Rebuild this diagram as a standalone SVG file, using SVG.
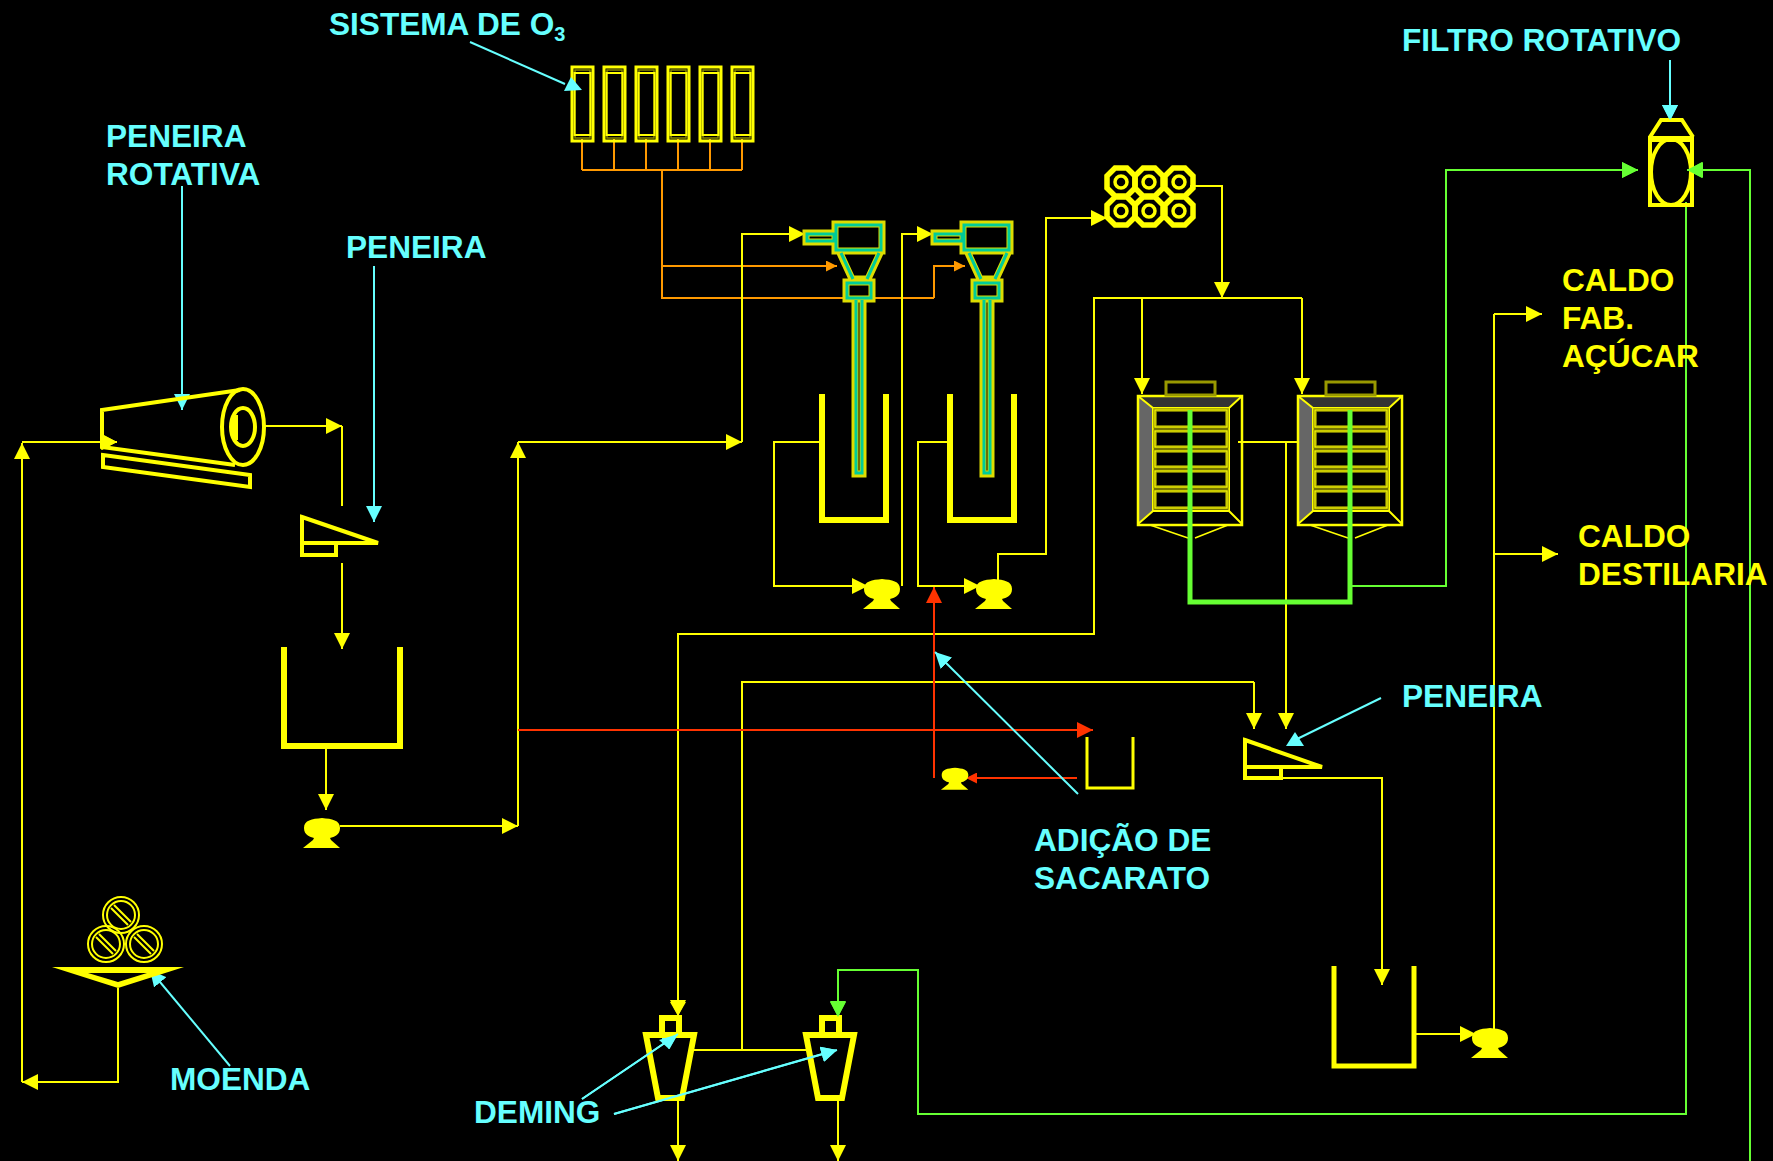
<svg xmlns="http://www.w3.org/2000/svg" xmlns:xlink="http://www.w3.org/1999/xlink" width="1773" height="1161" viewBox="0 0 1773 1161">
<defs>
<style>
.l{fill:none;stroke-width:2}
.y{stroke:#FFFF00}.o{stroke:#FF9900}.r{stroke:#FF3300}.g{stroke:#66FF33}.c{stroke:#66FFFF}
.ya{marker-end:url(#ay)}.oa{marker-end:url(#ao)}.ra{marker-end:url(#ar)}.ga{marker-end:url(#ag)}.ca{marker-end:url(#ac)}
.s{fill:none;stroke:#FFFF00;stroke-width:4}
.w{fill:none;stroke:#FFFF00;stroke-width:6}
.cy{fill:none;stroke:#DDDD00;stroke-width:7;stroke-linejoin:miter}
.ct{fill:none;stroke:#00CC99;stroke-width:3}
.p{fill:none;stroke:#999900;stroke-width:3.5}
.p2{fill:none;stroke:#FFFF00;stroke-width:1}
text{font-family:"Liberation Sans",Arial,sans-serif;font-weight:bold;font-size:31.6px}
.tc{fill:#66FFFF}.ty{fill:#FFFF00}
</style>
<marker id="ay" markerUnits="userSpaceOnUse" markerWidth="16" markerHeight="16" refX="16" refY="8" orient="auto"><path d="M0 0L16 8L0 16Z" fill="#FFFF00"/></marker>
<marker id="ao" markerUnits="userSpaceOnUse" markerWidth="11" markerHeight="11" refX="11" refY="5.5" orient="auto"><path d="M0 0L11 5.5L0 11Z" fill="#FF9900"/></marker>
<marker id="ar" markerUnits="userSpaceOnUse" markerWidth="16" markerHeight="16" refX="16" refY="8" orient="auto"><path d="M0 0L16 8L0 16Z" fill="#FF3300"/></marker>
<marker id="as" markerUnits="userSpaceOnUse" markerWidth="11" markerHeight="11" refX="11" refY="5.5" orient="auto"><path d="M0 0L11 5.5L0 11Z" fill="#FF3300"/></marker>
<marker id="ag" markerUnits="userSpaceOnUse" markerWidth="16" markerHeight="16" refX="16" refY="8" orient="auto"><path d="M0 0L16 8L0 16Z" fill="#66FF33"/></marker>
<marker id="ac" markerUnits="userSpaceOnUse" markerWidth="16" markerHeight="16" refX="16" refY="8" orient="auto"><path d="M0 0L16 8L0 16Z" fill="#66FFFF"/></marker>
<path id="pump" d="M-18 -4C-18 -12 -10 -13 0 -14C10 -13 18 -12 18 -4C18 3 12 5 8 6L9 8L18 16L-19 16L-9 8L-8 6C-12 5 -18 3 -18 -4Z" fill="#FFFF00"/>
<g id="ozcell">
<rect x="572" y="67" width="21" height="74" fill="none" stroke="#FFFF00" stroke-width="3"/>
<rect x="575" y="70" width="15" height="68" fill="none" stroke="#888800" stroke-width="1.5"/>
<rect x="574.500" y="73" width="16" height="62" fill="none" stroke="#FFFF00" stroke-width="2"/>
</g>
<g id="cyc">
<path class="cy" d="M835 224H882V251H835ZM806 233H835V242H806ZM840 253L852 279H868L880 253M846 282H872V299H846ZM855 300V474H863V300"/>
<path class="ct" d="M836 225H881V250H836ZM807 234H834V241H807ZM841 253L853 279M879 253L867 279M847 283H871V298H847ZM856 300V473H862V300"/>
</g>
<g id="press">
<path d="M1138 396H1242L1229 408H1153Z" fill="#333333"/>
<path d="M1138 396L1153 408V511L1138 524Z" fill="#666666"/>
<rect x="1138" y="396" width="104" height="129" fill="none" stroke="#FFFF00" stroke-width="2.5"/>
<rect x="1153" y="408" width="76" height="103" fill="none" stroke="#FFFF00" stroke-width="2"/>
<path d="M1138 396L1153 408M1242 396L1229 408M1138 524L1153 511M1242 524L1229 511" fill="none" stroke="#FFFF00" stroke-width="2"/>
<rect class="p" x="1155" y="410" width="72" height="17"/><rect class="p" x="1155" y="431" width="72" height="16"/><rect class="p" x="1155" y="451" width="72" height="16"/><rect class="p" x="1155" y="471" width="72" height="16"/><rect class="p" x="1155" y="491" width="72" height="17"/>
<rect class="p2" x="1155" y="410" width="72" height="17"/><rect class="p2" x="1155" y="431" width="72" height="16"/><rect class="p2" x="1155" y="451" width="72" height="16"/><rect class="p2" x="1155" y="471" width="72" height="16"/><rect class="p2" x="1155" y="491" width="72" height="17"/>
<rect x="1166" y="382" width="49" height="13" fill="none" stroke="#999900" stroke-width="3"/>
<path d="M1150 525L1188 538M1195 538L1228 525" fill="none" stroke="#FFFF00" stroke-width="1.500"/>
</g>
<g id="roller">
<circle r="18" fill="none" stroke="#FFFF00" stroke-width="2"/><circle r="14" fill="none" stroke="#FFFF00" stroke-width="2"/>
<path d="M-10 -7L7 10M-7 -10L10 7" fill="none" stroke="#FFFF00" stroke-width="2"/>
</g>
<g id="coil"><path d="M-6 -14H6L14 -6V6L6 14H-6L-14 6V-6Z" fill="none" stroke="#FFFF00" stroke-width="5.500"/><circle r="6" fill="none" stroke="#FFFF00" stroke-width="3.500"/></g>
</defs>
<rect width="1773" height="1161" fill="#000000"/>

<g id="connectors">
<path class="l o" d="M582 139V170M614 139V170M646 139V170M678 139V170M710 139V170M742 139V170M582 170H742M662 170V298H934"/>
<path class="l o oa" d="M662 266H837"/>
<path class="l o oa" d="M934 298V266H965"/>
<path class="l y ya" d="M22 1082V443"/>
<path class="l y ya" d="M22 442H117"/>
<path class="l y ya" d="M265 426H342"/>
<path class="l y" d="M342 426V506"/>
<path class="l y ya" d="M342 563V649"/>
<path class="l y ya" d="M326 747V810"/>
<path class="l y ya" d="M340 826H518"/>
<path class="l y ya" d="M518 826V442"/>
<path class="l y ya" d="M518 442H742"/>
<path class="l y ya" d="M742 442V234H805"/>
<path class="l y ya" d="M819 442H774V586H868"/>
<path class="l y ya" d="M902 586V234H933"/>
<path class="l y ya" d="M947 442H918V586H980"/>
<path class="l y ya" d="M998 580V554H1046V218H1107"/>
<path class="l y ya" d="M1190 186H1222V298"/>
<path class="l y ya" d="M1302 298H1094V634H678V1016"/>
<path class="l y ya" d="M1142 298V394"/>
<path class="l y ya" d="M1302 298V394"/>
<path class="l y" d="M1238 442H1302"/>
<path class="l y ya" d="M1286 442V729"/>
<path class="l y" d="M1254 682H742V1050"/>
<path class="l y ya" d="M1254 682V729"/>
<path class="l y" d="M694 1050H806"/>
<path class="l y ya" d="M678 1100V1161"/>
<path class="l y ya" d="M838 1100V1161"/>
<path class="l y ya" d="M118 988V1082H22"/>
<path class="l y ya" d="M1282 778H1382V985"/>
<path class="l y ya" d="M1416 1034H1476"/>
<path class="l y" d="M1494 1030V314"/>
<path class="l y ya" d="M1494 314H1542"/>
<path class="l y ya" d="M1494 554H1558"/>
<path class="l r ra" d="M518 730H1093"/>
<path class="l r ra" d="M934 778V587"/>
<path class="l r" d="M1077 778H966" marker-end="url(#as)"/>
<path class="l g ga" d="M1350 586H1446V170H1638"/>
<path class="l g ga" d="M1750 1161V170H1687"/>
<path class="l g ga" d="M1686 202V1114H918V970H838V1017"/>
<path class="l c ca" d="M182 186V410"/>
<path class="l c ca" d="M374 266V522"/>
<path class="l c ca" d="M1670 60V121"/>
<path class="l c" d="M470 42L565 84"/>
<path class="l c ca" d="M1078 794L935 652"/>
<path class="l c" d="M1381 698L1295 740"/>
<path class="l c ca" d="M230 1066L150 970"/>
<path class="l c ca" d="M582 1099L678 1034"/>
<path class="l c ca" d="M614 1114L837 1050"/>
</g>

<g id="peneira-rotativa">
<path class="s" d="M240 390L102 410V447L235 465M103 455L250 475V487L103 467Z"/>
<ellipse class="s" cx="243" cy="427" rx="21" ry="38"/>
<ellipse class="s" cx="243" cy="427" rx="12" ry="19"/>
<path d="M232 415H238V440H232Z" fill="#FFFF00"/>
<path d="M117 442L102 434V450Z" fill="#FFFF00"/>
</g>
<g id="peneira-1"><path class="s" d="M302 517L378 543H302ZM302 543V555H336V543"/></g>
<g id="tanque-1"><path class="w" d="M284 647V746H400V647"/></g>
<g id="bomba-1"><use xlink:href="#pump" x="322" y="832"/></g>
<g id="moenda">
<use xlink:href="#roller" x="121" y="915"/><use xlink:href="#roller" x="106" y="944"/><use xlink:href="#roller" x="144" y="944"/>
<path d="M52 967H184L118 988ZM88 973L118 982L147 973Z" fill="#FFFF00" fill-rule="evenodd"/>
</g>
<g id="sistema-o3">
<use xlink:href="#ozcell"/><use xlink:href="#ozcell" x="32"/><use xlink:href="#ozcell" x="64"/><use xlink:href="#ozcell" x="96"/><use xlink:href="#ozcell" x="128"/><use xlink:href="#ozcell" x="160"/>
<path d="M564 91L582 90L571 77Z" fill="#66FFFF"/>
</g>
<g id="ciclone-1"><use xlink:href="#cyc"/></g>
<g id="ciclone-2"><use xlink:href="#cyc" x="128"/></g>
<g id="tanque-2"><path class="w" d="M822 394V520H886V394"/></g>
<g id="tanque-3"><path class="w" d="M950 394V520H1014V394"/></g>
<g id="bomba-2"><use xlink:href="#pump" x="882" y="593"/></g>
<g id="bomba-3"><use xlink:href="#pump" x="994" y="593"/></g>
<g id="trocador">
<use xlink:href="#coil" x="1121" y="182"/><use xlink:href="#coil" x="1149" y="182"/><use xlink:href="#coil" x="1179" y="182"/>
<use xlink:href="#coil" x="1121" y="211"/><use xlink:href="#coil" x="1149" y="211"/><use xlink:href="#coil" x="1179" y="211"/>
</g>
<g id="filtro-prensa-1"><use xlink:href="#press"/></g>
<g id="filtro-prensa-2"><use xlink:href="#press" x="160"/></g>
<g id="filtro-verde"><path d="M1190 410V602H1350V410" fill="none" stroke="#66FF33" stroke-width="5"/></g>
<g id="filtro-rotativo">
<rect x="1650" y="138" width="42" height="67" fill="none" stroke="#FFFF00" stroke-width="4"/>
<path class="s" d="M1650 137L1661 120H1682L1693 137"/>
<rect x="1648" y="136" width="46" height="6" fill="#FFFF00"/>
<ellipse cx="1671" cy="172" rx="20" ry="33" fill="none" stroke="#FFFF00" stroke-width="4"/>
<path d="M1687 170L1702 162V178Z" fill="#66FF33"/>
<path d="M1638 170L1622 162V178Z" fill="#66FF33"/>
<path d="M1670 120L1662 105H1678Z" fill="#66FFFF"/>
</g>
<g id="tanque-sacarato"><path class="s" style="stroke-width:3" d="M1087 737V788H1133V737"/></g>
<g id="bomba-sacarato"><use xlink:href="#pump" transform="translate(955 778) scale(.74)"/></g>
<g id="peneira-2">
<path class="s" d="M1245 740L1322 767H1245ZM1245 767V778H1281V767"/>
<path d="M1286 746L1304 746L1295 732Z" fill="#66FFFF"/>
</g>
<g id="tanque-4"><path class="s" style="stroke-width:5" d="M1334 966V1066H1414V966"/></g>
<g id="bomba-4"><use xlink:href="#pump" x="1490" y="1042"/></g>
<g id="deming-1"><path class="w" d="M646 1035H694L682 1098H658ZM662 1032V1018H679V1032"/></g>
<g id="deming-2"><path class="w" d="M806 1035H854L842 1098H818ZM822 1032V1018H839V1032"/></g>
<g id="deming-setas">
<path d="M678 1034L659 1040L669 1049Z" fill="#66FFFF"/>
<path d="M837 1050L821 1047L825 1061Z" fill="#66FFFF"/>
<path d="M838 1017L830 1002H846Z" fill="#66FF33"/>
<path d="M678 1016L670 1002H686Z" fill="#FFFF00"/>
<path d="M582 1099L678 1034M614 1114L826 1053" fill="none" stroke="#66FFFF" stroke-width="2"/>
</g>

<g id="labels">
<text class="tc" x="329" y="35">SISTEMA DE O<tspan font-size="20" dy="6">3</tspan></text>
<text class="tc" x="1402" y="51">FILTRO ROTATIVO</text>
<text class="tc" x="106" y="147">PENEIRA</text>
<text class="tc" x="106" y="185">ROTATIVA</text>
<text class="tc" x="346" y="258">PENEIRA</text>
<text class="ty" x="1562" y="291">CALDO</text>
<text class="ty" x="1562" y="329">FAB.</text>
<text class="ty" x="1562" y="367">AÇÚCAR</text>
<text class="ty" x="1578" y="547">CALDO</text>
<text class="ty" x="1578" y="585">DESTILARIA</text>
<text class="tc" x="1402" y="707">PENEIRA</text>
<text class="tc" x="1034" y="851">ADIÇÃO DE</text>
<text class="tc" x="1034" y="889">SACARATO</text>
<text class="tc" x="170" y="1090">MOENDA</text>
<text class="tc" x="474" y="1123">DEMING</text>
</g>
</svg>
